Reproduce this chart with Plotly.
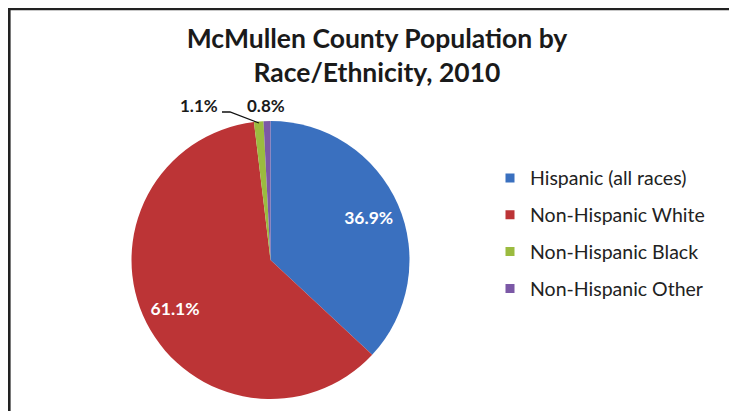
import plotly.graph_objects as go

categories = ["Hispanic (all races)", "Non-Hispanic White", "Non-Hispanic Black", "Non-Hispanic Other"]
shares = [36.9, 61.1, 1.1, 0.8]
colors = ["#3A70BF", "#BC3436", "#9BBB3F", "#7B58A6"]
title_text = "McMullen County Population by<br>Race/Ethnicity, 2010"

# the page draws the figure 8px in from the top-left corner
OFF = 8
W, H = 737 - OFF, 411 - OFF
FONT = "Lato"


def px(X):
    return (X - OFF) / W


def py(Y):
    return 1 - (Y - OFF) / H


pie_dom = dict(x=[px(270.5 - 139), px(270.5 + 139)], y=[py(399), py(121)])

fig = go.Figure()

# pie slices
fig.add_trace(go.Pie(
    labels=categories, values=shares, sort=False, direction="clockwise", rotation=0,
    marker=dict(colors=colors, line=dict(width=0)),
    textinfo="none", showlegend=False, hoverinfo="label+value",
    domain=pie_dom,
))

# transparent ring overlay carrying the inside percentage labels
big_text = [f"{v:.1f}%" if v > 5 else "" for v in shares]
fig.add_trace(go.Pie(
    labels=categories, values=shares, sort=False, direction="clockwise", rotation=0,
    hole=0.54,
    marker=dict(colors=["rgba(0,0,0,0)"] * len(shares), line=dict(width=0)),
    text=big_text, textinfo="text", textposition="inside",
    insidetextorientation="horizontal",
    textfont=dict(family=FONT, size=17.5, color="white", weight="bold"),
    showlegend=False, hoverinfo="skip",
    domain=pie_dom,
))

# legend entries (one group each for spacing)
for cat, col in zip(categories, colors):
    fig.add_trace(go.Scatter(
        x=[None], y=[None], mode="markers", name=cat, legendgroup=cat,
        marker=dict(symbol="square", size=9, color=col),
    ))

# outside labels for small slices
label_xy = {"Non-Hispanic Black": (199, 106), "Non-Hispanic Other": (266, 106)}
for c, v in zip(categories, shares):
    if v <= 5:
        x, y = label_xy[c]
        fig.add_annotation(x=px(x), y=py(y), xref="paper", yref="paper",
                           xanchor="center", yanchor="middle",
                           text=f"{v:.1f}%", showarrow=False,
                           font=dict(family=FONT, size=17, color="#1a1a1a", weight="bold"))

# leader line for 1.1%
fig.add_shape(type="path", xref="paper", yref="paper",
              path=f"M {px(222)},{py(112)} L {px(230)},{py(112)} L {px(259)},{py(123)}",
              line=dict(color="#111", width=1.3))

# frame
fig.add_shape(type="rect", xref="paper", yref="paper",
              x0=px(9.3), y0=-0.1, x1=1.1, y1=py(9.0),
              line=dict(color="#222", width=2.6))

fig.update_layout(
    width=W, height=H,
    margin=dict(l=0, r=0, t=0, b=0),
    paper_bgcolor="white", plot_bgcolor="white",
    xaxis=dict(visible=False), yaxis=dict(visible=False),
    title=dict(text=title_text, x=px(377), xanchor="center",
               y=py(48), yanchor="middle", yref="container", xref="container",
               font=dict(family=FONT, size=26.5, color="#1a1a1a", weight="bold")),
    legend=dict(x=px(490), xanchor="left", y=py(158.7), yanchor="top",
                font=dict(family=FONT, size=19.5, color="#222"),
                tracegroupgap=8.5, itemwidth=30, bgcolor="rgba(0,0,0,0)"),
    font=dict(family=FONT),
)

fig.write_html("out.html")
